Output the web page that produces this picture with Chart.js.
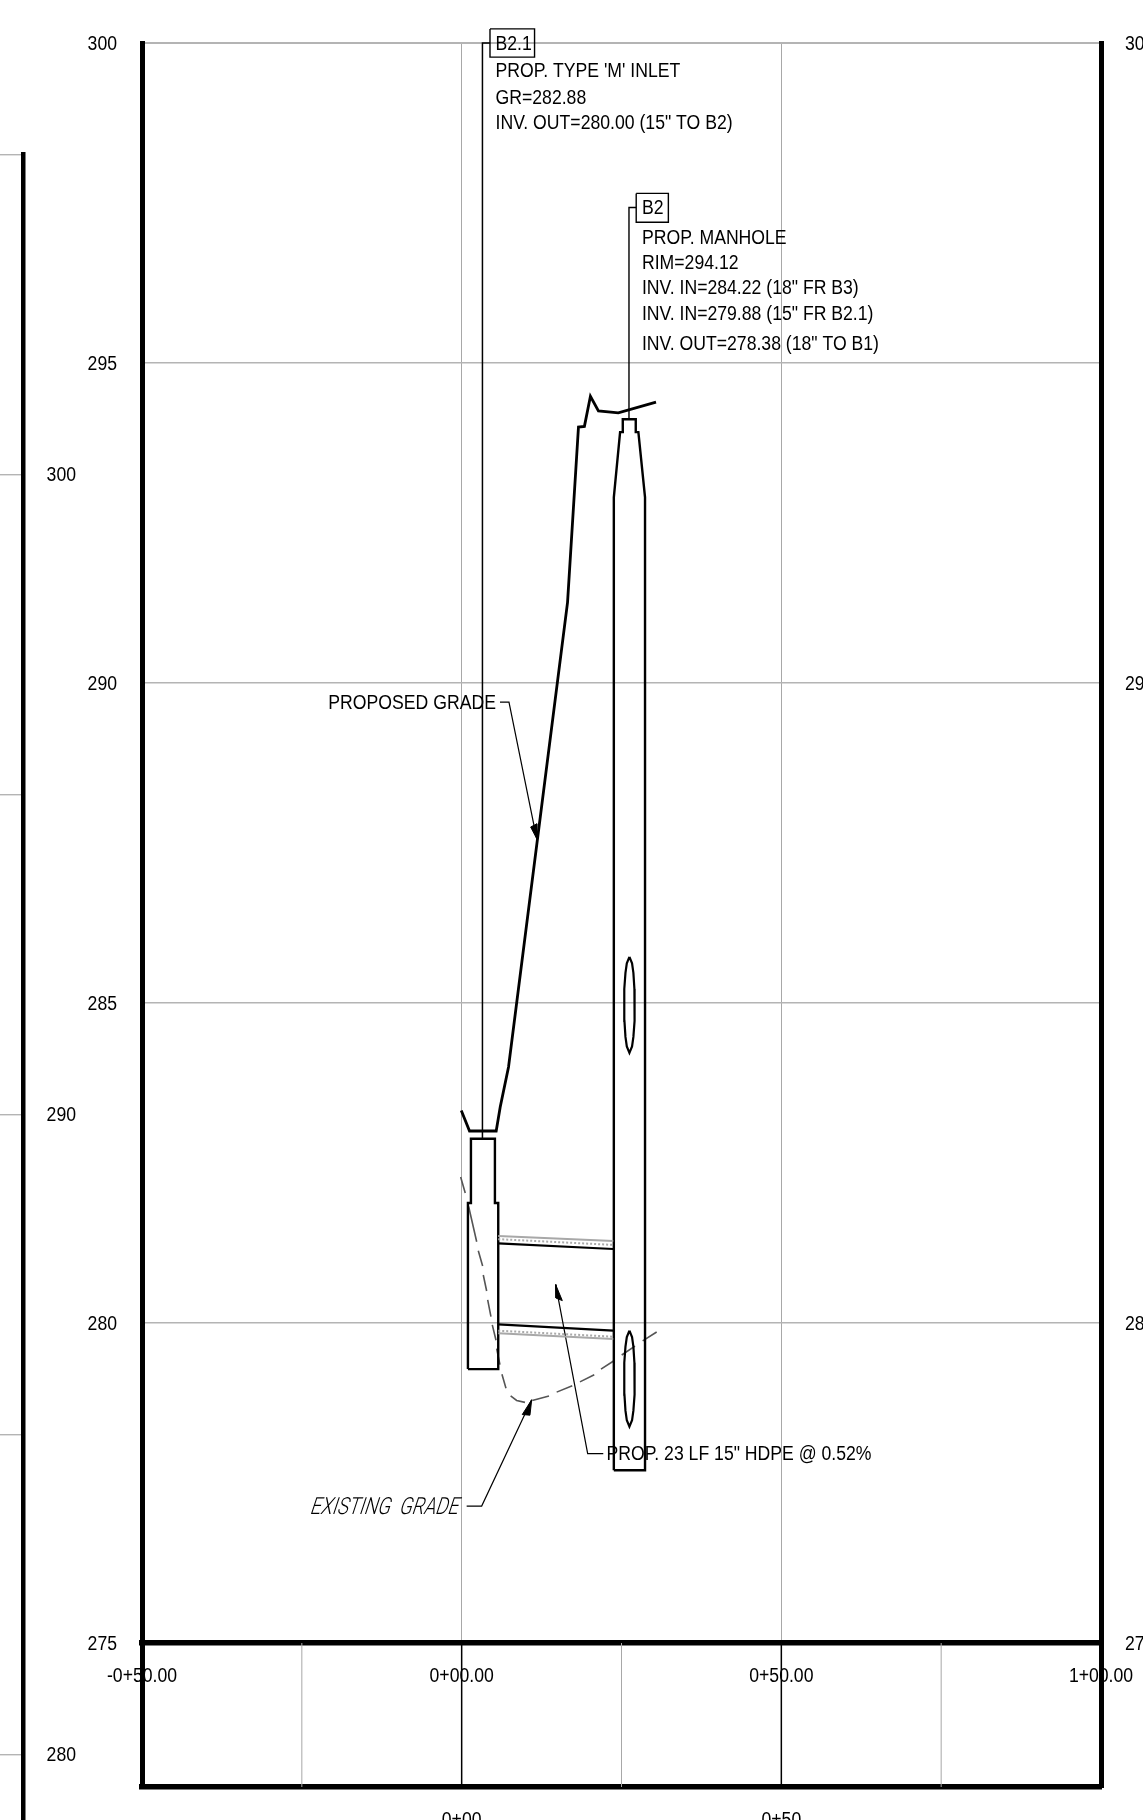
<!DOCTYPE html>
<html lang="en">

<head>
    <meta charset="UTF-8">
    <title>Storm profile B2.1 to B2</title>
    <script src="https://cdn.jsdelivr.net/npm/chart.js"></script>
    <style>
        html, body { margin: 0; padding: 0; background: #fff; overflow: hidden; }
        canvas { position: absolute; top: 0; display: block; }
    </style>
</head>

<body>
    <canvas id="sideChart" width="100" height="1820" style="left:0"></canvas>
    <canvas id="profileChart" width="1143" height="1820" style="left:0"></canvas>

    <script>
        // axis values
        const xTicks = [-50, 0, 50, 100];
        const xTickLabels = ['-0+50.00', '0+00.00', '0+50.00', '1+00.00'];
        const stripGridGray = [-25, 25, 75];
        const stripGridBlack = [0, 50];
        const belowTicks = [0, 50];
        const belowTickLabels = ['0+00', '0+50'];
        const yTicks = [300, 295, 290, 285, 280, 275];
        const yRightTicks = [300, 290, 280, 275];
        const sideTicks = [305, 300, 295, 290, 285, 280];
        const sideLabelled = [300, 290, 280];

        // ground lines (station, elevation); the null entries break the existing grade into its dashes
        const proposedX = [-0.06, 1.23, 5.4, 6.03, 7.33, 16.56, 18.27, 19.2, 20.14, 21.39, 24.5, 30.4];
        const proposedY = [283.32, 283.0, 283.0, 283.375, 284.0, 291.26, 294.0, 294.01, 294.48, 294.25, 294.22, 294.39];
        const existingX = [-0.16, 0.56, null, 1.09, 2.35, null, 2.6, 3.28, null, 3.38, 3.91, null, 4.07, 4.58, null, 4.79, 5.37, null,
            5.47, 5.99, null, 6.3, 6.93, null, 7.66, 8.6, 9.9, null, 11.04, 13.66, null, 14.86, 17.3, null, 18.5, 20.74, null,
            21.79, 23.82, null, 25.03, 27.11, null, 28.31, 30.5];
        const existingY = [282.28, 282.03, null, 281.82, 281.27, null, 281.13, 280.89, null, 280.75, 280.5, null, 280.36, 280.1, null, 279.97, 279.73, null,
            279.6, 279.35, null, 279.2, 278.98, null, 278.86, 278.79, 278.76, null, 278.79, 278.86, null, 278.92, 279.02, null, 279.08, 279.19, null,
            279.28, 279.41, null, 279.5, 279.64, null, 279.72, 279.86];

        // structures
        const inletX = [0.98, 0.98, 1.45, 1.45, 5.2, 5.2, 5.72, 5.72, 0.98];
        const inletY = [279.28, 281.875, 281.875, 282.88, 282.88, 281.875, 281.875, 279.28, 279.28];
        const manholeX = [23.8, 23.8, 24.78, 25.2, 25.2, 27.23, 27.23, 27.64, 28.68, 28.68, 23.8];
        const manholeY = [277.7, 292.9, 293.92, 293.92, 294.12, 294.12, 293.92, 293.92, 292.9, 277.7, 277.7];
        const ovalX = [26.24, 26.65, 26.86, 27.02, 27.07, 27.02, 26.86, 26.65, 26.24, 25.83, 25.62, 25.46, 25.41, 25.46, 25.62, 25.83, 26.24];
        const upperOvalY = [285.72, 285.62, 285.47, 285.22, 284.97, 284.72, 284.47, 284.32, 284.22, 284.32, 284.47, 284.72, 284.97, 285.22, 285.47, 285.62, 285.72];
        const lowerOvalY = [279.88, 279.78, 279.63, 279.38, 279.13, 278.88, 278.63, 278.48, 278.38, 278.48, 278.63, 278.88, 279.13, 279.38, 279.63, 279.78, 279.88];

        // pipe
        const pipeX = [5.72, 23.71];
        const crownY = [281.245, 281.156];
        const crownDotY = [281.31, 281.22];
        const crownOuterY = [281.36, 281.28];
        const invertY = [279.98, 279.88];
        const invertDotY = [279.88, 279.786];
        const invertOuterY = [279.84, 279.75];

        // label boxes and their leaders
        const box21X = [4.43, 11.4, 11.4, 4.43, 4.43];
        const box21Y = [300.22, 300.22, 299.78, 299.78, 300.22];
        const leader21X = [4.43, 3.25, 3.25];
        const leader21Y = [300, 300, 282.88];
        const box2X = [27.3, 32.33, 32.33, 27.3, 27.3];
        const box2Y = [297.65, 297.65, 297.2, 297.2, 297.65];
        const leader2X = [27.3, 26.17, 26.17];
        const leader2Y = [297.43, 297.43, 294.12];

        // callout leaders and arrow heads
        const gradeLeaderX = [5.99, 7.4, 11.73];
        const gradeLeaderY = [289.7, 289.7, 287.57];
        const gradeHeadX = [11.73, 10.79, 11.78, 11.73];
        const gradeHeadY = [287.57, 287.75, 287.8, 287.57];
        const existLeaderX = [0.78, 3.13, 10.95];
        const existLeaderY = [277.14, 277.14, 278.8];
        const existHeadX = [10.95, 9.48, 10.68, 10.95];
        const existHeadY = [278.8, 278.57, 278.56, 278.8];
        const pipeLeaderX = [22.15, 19.71, 14.7];
        const pipeLeaderY = [277.96, 277.96, 280.6];
        const pipeHeadX = [14.7, 14.75, 15.74, 14.7];
        const pipeHeadY = [280.6, 280.39, 280.35, 280.6];

        // notes
        const noteText = ['B2.1', "PROP. TYPE 'M' INLET", 'GR=282.88', 'INV. OUT=280.00 (15" TO B2)',
            'B2', 'PROP. MANHOLE', 'RIM=294.12', 'INV. IN=284.22 (18" FR B3)', 'INV. IN=279.88 (15" FR B2.1)', 'INV. OUT=278.38 (18" TO B1)',
            'PROPOSED GRADE', 'PROP. 23 LF 15" HDPE @ 0.52%'];
        const noteX = [5.3, 5.3, 5.3, 5.3, 28.2, 28.2, 28.2, 28.2, 28.2, 28.2, -20.85, 22.67];
        const noteY = [300.0, 299.57, 299.15, 298.76, 297.43, 296.96, 296.58, 296.18, 295.78, 295.31, 289.7, 277.97];
        const existingNote = 'EXISTING  GRADE';
        const existingNoteX = -24.0;
        const existingNoteY = 277.1;

        const FONT = '"Liberation Sans", sans-serif';
        const GRID = '#b4b4b4';
        const GRID_V = '#a8a8a8';
        const NARROW = 0.86; // the drawing uses a condensed lettering

        function path(xs, ys, width, color, extra) {
            return Object.assign({
                data: xs.map((x, i) => ({ x: x, y: ys[i] })),
                showLine: true,
                borderColor: color || '#000',
                backgroundColor: color || '#000',
                borderWidth: width,
                pointRadius: 0,
                tension: 0,
                fill: false,
                clip: false,
                spanGaps: false,
                borderJoinStyle: 'miter'
            }, extra || {});
        }

        function head(xs, ys) {
            return path(xs, ys, 1, '#000', { fill: 'shape' });
        }

        const datasets = [];
        stripGridGray.forEach(v => datasets.push(path([v, v], [272.75, 275], 1, GRID_V)));
        stripGridBlack.forEach(v => datasets.push(path([v, v], [272.75, 275], 1.5, '#000')));
        datasets.push(
            path(pipeX, crownOuterY, 2, '#a8a8a8'),
            path(pipeX, crownDotY, 2, '#aaa', { borderDash: [2, 2] }),
            path(pipeX, crownY, 2.2, '#000'),
            path(pipeX, invertOuterY, 2, '#a8a8a8'),
            path(pipeX, invertDotY, 2, '#aaa', { borderDash: [2, 2] }),
            path(pipeX, invertY, 2.2, '#000'),
            path(inletX, inletY, 2.4, '#000'),
            path(manholeX, manholeY, 2.4, '#000'),
            path(ovalX, upperOvalY, 2.2, '#000'),
            path(ovalX, lowerOvalY, 2.2, '#000'),
            path(proposedX, proposedY, 2.8, '#000'),
            path(existingX, existingY, 1.6, '#555'),
            path(box21X, box21Y, 1.4, '#000'),
            path(leader21X, leader21Y, 1.5, '#000'),
            path(box2X, box2Y, 1.4, '#000'),
            path(leader2X, leader2Y, 1.4, '#000'),
            path(gradeLeaderX, gradeLeaderY, 1.2, '#000'),
            head(gradeHeadX, gradeHeadY),
            path(existLeaderX, existLeaderY, 1.2, '#000'),
            head(existHeadX, existHeadY),
            path(pipeLeaderX, pipeLeaderY, 1.2, '#000'),
            head(pipeHeadX, pipeHeadY)
        );

        function narrowText(ctx, text, px, py, align) {
            ctx.save();
            ctx.translate(px, py + 1);
            ctx.scale(NARROW, 1);
            ctx.textAlign = align;
            ctx.textBaseline = 'middle';
            ctx.fillText(text, 0, 0);
            ctx.restore();
        }

        // tick labels and notes are placed from the chart scales
        const notesPlugin = {
            id: 'notes',
            afterDatasetsDraw(chart) {
                const ctx = chart.ctx;
                const { x: sx, y: sy, yRight } = chart.scales;
                ctx.save();
                ctx.fillStyle = '#000';
                ctx.font = '20.5px ' + FONT;
                yTicks.forEach(v => narrowText(ctx, String(v), sx.left - 25, sy.getPixelForValue(v), 'right'));
                yRightTicks.forEach(v => narrowText(ctx, String(v), sx.right + 24, yRight.getPixelForValue(v), 'left'));
                xTicks.forEach((v, i) => narrowText(ctx, xTickLabels[i], sx.getPixelForValue(v), sy.getPixelForValue(275) + 32, 'center'));
                belowTicks.forEach((v, i) => narrowText(ctx, belowTickLabels[i], sx.getPixelForValue(v), sy.bottom + 32, 'center'));
                noteText.forEach((t, i) => narrowText(ctx, t, sx.getPixelForValue(noteX[i]), sy.getPixelForValue(noteY[i]), 'left'));

                // slanted hand lettering of the existing grade note
                ctx.font = '300 23.5px Roboto, ' + FONT;
                const squeeze = 148 / ctx.measureText(existingNote).width;
                ctx.transform(squeeze, 0, -0.33, 1, sx.getPixelForValue(existingNoteX) + 3, sy.getPixelForValue(existingNoteY));
                ctx.textBaseline = 'middle';
                ctx.textAlign = 'left';
                ctx.fillText(existingNote, 0, 0);
                ctx.restore();
            }
        };

        const sideLabelPlugin = {
            id: 'sideLabels',
            afterDatasetsDraw(chart) {
                const ctx = chart.ctx;
                const sy = chart.scales.y;
                ctx.save();
                ctx.fillStyle = '#000';
                ctx.font = '20.5px ' + FONT;
                sideLabelled.forEach(v => narrowText(ctx, String(v), sy.left + 53, sy.getPixelForValue(v), 'right'));
                ctx.restore();
            }
        };

        function setTicks(values) {
            return scale => { scale.ticks = values.map(v => ({ value: v })); };
        }

        new Chart(document.getElementById('profileChart'), {
            type: 'scatter',
            data: { datasets: datasets },
            plugins: [notesPlugin],
            options: {
                responsive: false,
                animation: false,
                devicePixelRatio: 1,
                layout: { padding: { top: 43, bottom: 0, left: 0, right: 0 } },
                plugins: { legend: { display: false }, tooltip: { enabled: false } },
                scales: {
                    x: {
                        type: 'linear', min: -50, max: 100,
                        position: { y: 275 },
                        afterBuildTicks: setTicks(xTicks),
                        grid: { color: GRID_V, lineWidth: 1, drawTicks: false },
                        border: { display: true, color: '#000', width: 5.5 },
                        ticks: { display: false }
                    },
                    xBelow: {
                        type: 'linear', min: -50, max: 100,
                        position: 'bottom',
                        afterBuildTicks: setTicks(belowTicks),
                        afterFit: s => { s.height = 33; },
                        grid: { display: false, drawTicks: false },
                        border: { display: true, color: '#000', width: 5.5 },
                        ticks: { display: false }
                    },
                    y: {
                        type: 'linear', min: 272.75, max: 300,
                        position: 'left',
                        afterBuildTicks: setTicks(yTicks),
                        afterFit: s => { s.width = 142; },
                        grid: { color: GRID, lineWidth: c => c.tick.value === 300 ? 2 : 1.4, drawTicks: false },
                        border: { display: true, color: '#000', width: 5 },
                        ticks: { display: false }
                    },
                    yRight: {
                        type: 'linear', min: 272.75, max: 300,
                        position: 'right',
                        afterBuildTicks: setTicks(yRightTicks),
                        afterFit: s => { s.width = 42; },
                        grid: { display: false, drawTicks: false },
                        border: { display: true, color: '#000', width: 5 },
                        ticks: { display: false }
                    }
                }
            }
        });

        // the neighbouring profile that is cut off by the left page edge
        new Chart(document.getElementById('sideChart'), {
            type: 'scatter',
            data: { datasets: [] },
            plugins: [sideLabelPlugin],
            options: {
                responsive: false,
                animation: false,
                devicePixelRatio: 1,
                layout: { padding: { top: 154.5, bottom: 0, left: 0, right: 0 } },
                plugins: { legend: { display: false }, tooltip: { enabled: false } },
                scales: {
                    x: { type: 'linear', display: false },
                    y: {
                        type: 'linear', min: 278.98, max: 305,
                        position: 'right',
                        afterBuildTicks: setTicks(sideTicks),
                        afterFit: s => { s.width = 77; },
                        grid: { color: GRID, lineWidth: 1.4, drawTicks: false },
                        border: { display: true, color: '#000', width: 4.5 },
                        ticks: { display: false }
                    }
                }
            }
        });
    </script>
</body>
</html>
